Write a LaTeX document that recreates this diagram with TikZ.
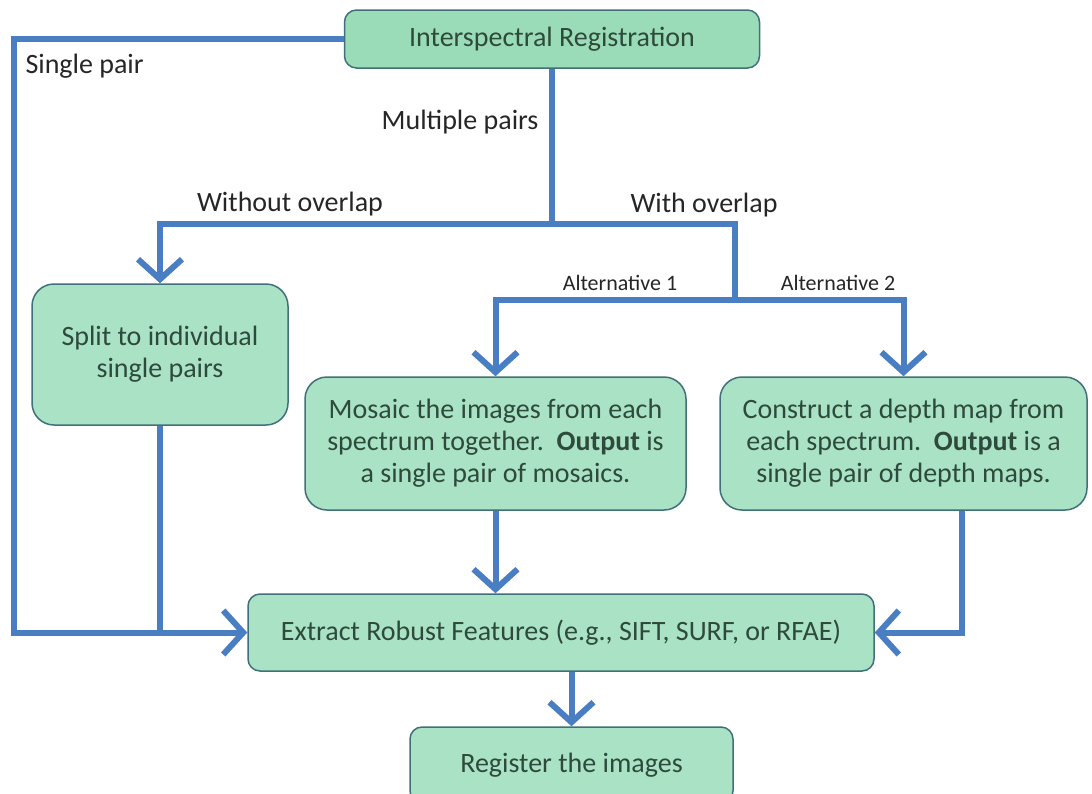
\documentclass[tikz,border=0pt]{standalone}
\usepackage{fontspec}
\setmainfont{Carlito}
\usetikzlibrary{positioning,calc,arrows.meta}
\definecolor{Boite}{HTML}{A9E2C4}
\definecolor{Tete}{HTML}{9BDCB8}
\definecolor{Bord}{HTML}{41707A}
\definecolor{Fleche}{HTML}{4A7EC2}
\definecolor{Texte}{HTML}{2E4A3C}

\begin{document}
\begin{tikzpicture}[x=1pt,y=-1pt,
    boite/.style={draw=Bord, line width=1.5pt, fill=Boite, rounded corners=12pt, text=Texte,
      font=\fontsize{28}{32}\selectfont, align=center, inner sep=0pt},
    lien/.style={draw=Fleche, line width=6pt},
    fl/.style={lien, -{Straight Barb[length=20pt, width=44pt]}},
    etiq/.style={font=\fontsize{28}{30}\selectfont, text=black!85},
    petit/.style={font=\fontsize{22}{24}\selectfont, text=black!85}]
  \useasboundingbox (0,0) rectangle (1092,793);
  % boites
  \node[boite, fill=Tete, minimum width=415pt, minimum height=58pt] (inter) at (552,39)
    {Interspectral Registration};
  \node[boite, rounded corners=22pt, minimum width=256pt, minimum height=141pt] (split) at (160,354.5)
    {Split to individual\\single pairs};
  \node[boite, rounded corners=22pt, minimum width=381pt, minimum height=133pt] (mosaic) at (495.5,443.5)
    {Mosaic the images from each\\spectrum together.\ \ \textbf{Output} is\\a single pair of mosaics.};
  \node[boite, rounded corners=22pt, minimum width=367pt, minimum height=133pt] (depth) at (903.5,443.5)
    {Construct a depth map from\\each spectrum.\ \ \textbf{Output} is a\\single pair of depth maps.};
  \node[boite, minimum width=626pt, minimum height=77pt] (extract) at (561,632.5)
    {Extract Robust Features (e.g., SIFT, SURF, or RFAE)};
  \node[boite, minimum width=323pt, minimum height=76pt] (register) at (571.5,765)
    {\raisebox{5pt}{Register the images}};
  % points de jonction
  \coordinate (gauche) at (14,632.5);
  \coordinate (bif) at (552,224);
  \coordinate (alt) at (735,300);
  \coordinate (droite) at (962,632.5);
  % liens
  \draw[fl] (inter.west) -| (gauche) -- (extract.west);
  \draw[lien] (split.south) -- (split.south |- gauche);
  \draw[fl] (inter.south) -- (bif) -| (split.north);
  \draw[lien] (bif) -| (alt);
  \draw[fl] (alt) -| (mosaic.north);
  \draw[fl] (alt) -| (depth.north);
  \draw[fl] (mosaic.south) -- (mosaic.south |- extract.north);
  \draw[fl] (depth.south -| droite) -- (droite) -- (extract.east);
  \draw[fl] (extract.south -| register.north) -- (register.north);
  % etiquettes
  \node[etiq, anchor=west] (lsingle) at (22,66) {Single pair};
  \node[etiq, anchor=east] (lmult) at (542,122) {Multiple pairs};
  \node[etiq] (lsans) at (290,204) {Without overlap};
  \node[etiq] (lavec) at (704,205) {With overlap};
  \node[petit] (lalt1) at (620,283) {Alternative 1};
  \node[petit] (lalt2) at (838,283) {Alternative 2};
\end{tikzpicture}
\end{document}
